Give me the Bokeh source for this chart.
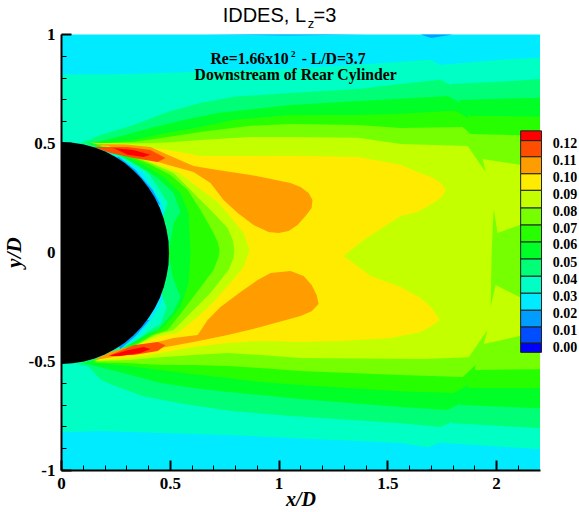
from bokeh.plotting import figure
from bokeh.models import Range1d, FixedTicker
from bokeh.core.properties import value
from bokeh.embed import file_html
from bokeh.resources import INLINE

# Contour outlines, in x/D, y/D
level_03 = [(0, 1), (2.2, 1), (2.2, -1), (0, -1)]
level_04 = [(0,0.817),(0.317,0.819),(0.639,0.829),(1.053,0.842),(1.362,0.861),(1.697,0.884),(1.753,0.856),(1.748,0.861),(1.868,0.872),(2.019,0.884),(2.2,0.895),
            (2.2,-0.902),(1.753,-0.874),(1.743,-0.870),(1.688,-0.893),(1.559,-0.874),(1.362,-0.865),(1.053,-0.851),(0.791,-0.838),(0.488,-0.829),(0.179,-0.819),(0,-0.824),
            (0,-0.512),(0.087,-0.498),(0.179,-0.470),(0.327,-0.406),(0.377,-0.360),(0.409,-0.314),(0.455,-0.241),(0.478,-0.172),(0.455,-0.002),(0.478,0.172),(0.455,0.241),(0.409,0.310),(0.373,0.369),(0.271,0.434),(0.179,0.473),(0.087,0.496),(0,0.507)]
level_05 = [(0.041,0.503),(0.087,0.501),(0.179,0.539),(0.331,0.585),(0.488,0.645),(0.639,0.686),(0.791,0.714),(1.053,0.732),(1.362,0.750),(1.559,0.773),(1.743,0.792),(1.799,0.764),(1.789,0.773),(2.019,0.783),(2.2,0.796),
            (2.2,-0.806),(1.799,-0.783),(1.794,-0.778),(1.743,-0.801),(1.559,-0.783),(1.053,-0.750),(0.791,-0.728),(0.561,-0.695),(0.377,-0.659),(0.225,-0.604),(0.179,-0.581),(0.120,-0.521),(0.064,-0.512),
            (0.179,-0.480),(0.280,-0.443),(0.363,-0.397),(0.400,-0.360),(0.455,-0.328),(0.483,-0.250),(0.465,-0.209),(0.455,-0.149),(0.409,-0.002),(0.455,0.140),(0.474,0.186),(0.488,0.227),(0.442,0.301),(0.396,0.369),(0.294,0.429),(0.202,0.470),(0.110,0.498)]
level_06 = [(0.120,0.498),(0.258,0.530),(0.409,0.571),(0.561,0.608),(0.718,0.640),(1.053,0.677),(1.362,0.695),(1.559,0.705),(1.776,0.718),(1.835,0.686),(1.826,0.700),(2.2,0.710),
            (2.2,-0.714),(1.831,-0.700),(1.835,-0.691),(1.776,-0.723),(1.559,-0.709),(1.099,-0.672),(0.915,-0.654),(0.764,-0.640),(0.607,-0.622),(0.455,-0.599),(0.304,-0.558),(0.193,-0.530),(0.101,-0.507),
            (0.202,-0.480),(0.294,-0.434),(0.386,-0.379),(0.442,-0.356),(0.511,-0.278),(0.547,-0.204),(0.511,-0.112),(0.492,-0.002),(0.515,0.135),(0.547,0.186),(0.515,0.273),(0.442,0.342),(0.363,0.392),(0.262,0.452),(0.156,0.489)]
level_07 = [(0.147,0.498),(0.331,0.516),(0.488,0.549),(0.639,0.576),(0.791,0.608),(1.053,0.631),(1.362,0.631),(1.559,0.636),(1.812,0.650),(1.872,0.613),(1.867,0.627),(2.2,0.623),
            (2.2,-0.622),(1.867,-0.622),(1.872,-0.608),(1.803,-0.645),(1.559,-0.636),(1.099,-0.608),(0.915,-0.594),(0.764,-0.576),(0.607,-0.558),(0.455,-0.539),(0.304,-0.521),(0.133,-0.503),
            (0.225,-0.475),(0.317,-0.429),(0.409,-0.379),(0.469,-0.342),(0.547,-0.250),(0.584,-0.140),(0.593,-0.002),(0.584,0.181),(0.547,0.273),(0.469,0.347),(0.386,0.397),(0.271,0.457),(0.179,0.484)]
level_08 = [(0.166,0.500),(0.331,0.507),(0.488,0.530),(0.639,0.553),(0.869,0.581),(1.053,0.590),(1.362,0.585),(1.559,0.571),(1.845,0.576),(1.900,0.526),(1.881,0.544),(2.2,0.535),
            (2.2,-0.535),(1.900,-0.539),(1.904,-0.516),(1.845,-0.571),(1.559,-0.562),(1.099,-0.544),(0.915,-0.530),(0.764,-0.521),(0.607,-0.516),(0.455,-0.516),(0.304,-0.507),(0.147,-0.503),
            (0.248,-0.470),(0.340,-0.425),(0.419,-0.379),(0.488,-0.356),(0.561,-0.264),(0.630,-0.172),(0.699,-0.080),(0.722,-0.021),(0.727,0.011),(0.718,0.048),(0.699,0.090),(0.639,0.195),(0.580,0.287),(0.501,0.356),(0.409,0.402),(0.294,0.452),(0.189,0.484)]
level_09 = [(0.133,0.503),(0.331,0.500),(0.488,0.505),(0.639,0.516),(0.869,0.530),(1.053,0.530),(1.362,0.526),(1.559,0.498),(1.867,0.489),(1.950,0.369),(1.936,0.429),(2.106,0.402),(2.2,0.388),
            (2.2,0.131),(2.106,0.126),(2.005,0.090),(1.987,0.200),(1.978,0.011),(1.973,-0.250),(1.996,-0.149),(2.106,-0.204),(2.2,-0.232),(2.2,-0.379),(2.106,-0.383),(1.941,-0.420),(1.959,-0.356),(1.872,-0.480),
            (1.665,-0.489),(1.099,-0.484),(0.915,-0.470),(0.764,-0.461),(0.607,-0.470),(0.455,-0.480),(0.304,-0.493),(0.147,-0.498),
            (0.271,-0.466),(0.363,-0.415),(0.432,-0.379),(0.515,-0.356),(0.607,-0.264),(0.685,-0.186),(0.768,-0.080),(0.791,-0.025),(0.795,0.011),(0.787,0.057),(0.764,0.112),(0.699,0.181),(0.607,0.273),(0.515,0.365),(0.409,0.411),(0.294,0.457),(0.202,0.489)]
level_10 = [(0.143,0.500),(0.331,0.489),(0.488,0.471),(0.639,0.443),(0.869,0.443),(1.053,0.444),(1.362,0.438),(1.559,0.402),(1.637,0.369),(1.711,0.342),(1.748,0.314),(1.766,0.287),(1.748,0.255),(1.711,0.227),(1.637,0.186),(1.559,0.168),(1.389,0.057),(1.297,-0.016),
            (1.421,-0.108),(1.559,-0.158),(1.651,-0.209),(1.702,-0.255),(1.739,-0.310),(1.702,-0.337),(1.651,-0.365),(1.513,-0.392),(1.283,-0.406),(1.099,-0.411),(0.915,-0.406),(0.764,-0.415),(0.607,-0.434),(0.455,-0.461),(0.304,-0.484),(0.156,-0.493),
            (0.294,-0.457),(0.386,-0.411),(0.455,-0.383),(0.534,-0.369),(0.626,-0.296),(0.699,-0.227),(0.777,-0.140),(0.837,-0.067),(0.865,0.011),(0.837,0.090),(0.777,0.163),(0.718,0.232),(0.626,0.301),(0.534,0.369),(0.409,0.415),(0.294,0.461),(0.216,0.489)]
level_11_upper = [(0.143,0.498),(0.294,0.496),(0.409,0.484),(0.488,0.448),(0.607,0.397),(0.718,0.379),(0.869,0.356),(1.053,0.319),(1.099,0.301),(1.136,0.273),(1.154,0.241),(1.150,0.204),(1.122,0.167),(1.085,0.126),(1.044,0.099),(0.998,0.090),(0.952,0.094),(0.883,0.126),(0.810,0.181),(0.745,0.241),(0.685,0.319),(0.607,0.369),(0.488,0.402),(0.409,0.425),(0.294,0.461),(0.216,0.489)]
level_11_lower = [(0.147,-0.493),(0.304,-0.470),(0.455,-0.438),(0.607,-0.411),(0.764,-0.379),(0.915,-0.342),(1.099,-0.291),(1.150,-0.269),(1.182,-0.236),(1.173,-0.195),(1.150,-0.149),(1.113,-0.108),(1.053,-0.085),(0.961,-0.094),(0.902,-0.126),(0.823,-0.181),(0.731,-0.250),(0.672,-0.310),(0.626,-0.379),(0.515,-0.392),(0.442,-0.411),(0.304,-0.434),(0.225,-0.457)]
level_12_upper = [(0.147,0.484),(0.304,0.484),(0.409,0.470),(0.478,0.434),(0.442,0.415),(0.331,0.434),(0.225,0.457)]
level_12_lower = [(0.225,-0.470),(0.331,-0.425),(0.442,-0.411),(0.478,-0.425),(0.442,-0.452),(0.331,-0.470)]
level_13_upper = [(0.239,0.479),(0.331,0.470),(0.409,0.448),(0.377,0.438),(0.304,0.448)]
level_13_lower = [(0.216,-0.475),(0.304,-0.448),(0.377,-0.434),(0.409,-0.443),(0.363,-0.461),(0.271,-0.475)]
level_02_top = [(0.653,1),(1.407,1),(1.03,0.996)]
level_02_tip = [(1.651,1),(1.798,1),(1.70,0.984)]
level_02_bottom = [(1.674,-1),(1.700,-0.989),(1.690,-1)]
level_02_wall_upper = [(0.262,0.439),(0.340,0.379),(0.419,0.287),(0.455,0.218),(0.317,0.287),(0.179,0.379)]
level_02_wall_lower = [(0.271,-0.443),(0.340,-0.383),(0.405,-0.310),(0.179,-0.310)]
cylinder_outline = [(0,0.507),(0.052,0.504),(0.103,0.496),(0.153,0.482),(0.201,0.463),(0.247,0.439),(0.291,0.410),(0.331,0.376),(0.367,0.339),(0.400,0.297),(0.428,0.253),(0.452,0.205),(0.470,0.155),(0.483,0.104),(0.492,0.051),(0.494,-0.002),
                    (0.492,-0.055),(0.483,-0.108),(0.470,-0.159),(0.452,-0.209),(0.428,-0.257),(0.400,-0.301),(0.367,-0.343),(0.331,-0.380),(0.291,-0.414),(0.247,-0.443),(0.201,-0.467),(0.153,-0.486),(0.103,-0.500),(0.052,-0.508),(0,-0.511)]

palette = ["#0000ff","#004eff","#009dff","#00ebff","#00ffc4","#00ff76","#00ff27",
           "#27ff00","#76ff00","#c4ff00","#ffeb00","#ff9d00","#ff4e00","#ff0000"]

contour_layers = [
    (level_03, 3), (level_02_top, 2), (level_02_tip, 2), (level_02_bottom, 2),
    (level_04, 4), (level_02_wall_upper, 2), (level_02_wall_lower, 2),
    (level_05, 5), (level_06, 6), (level_07, 7), (level_08, 8), (level_09, 9), (level_10, 10),
    (level_11_upper, 11), (level_11_lower, 11), (level_12_upper, 12), (level_12_lower, 12),
    (level_13_upper, 13), (level_13_lower, 13),
]

legend_levels = ["0.12","0.11","0.10","0.09","0.08","0.07","0.06","0.05","0.04","0.03","0.02","0.01","0.00"]
legend_label_y = [0.503,0.425,0.348,0.269,0.192,0.114,0.038,-0.042,-0.122,-0.200,-0.276,-0.354,-0.435]
legend_edges = [0.558,0.513,0.439,0.361,0.285,0.204,0.126,0.048,-0.030,-0.109,-0.187,-0.265,-0.342,-0.416,-0.458]

x_major = [0, 0.5, 1, 1.5, 2]
x_minor = [0.1,0.2,0.3,0.4,0.6,0.7,0.8,0.9,1.1,1.2,1.3,1.4,1.6,1.7,1.8,1.9,2.1]
y_major = [-1, -0.5, 0, 0.5, 1]
y_minor = [-0.9,-0.8,-0.7,-0.6,-0.4,-0.3,-0.2,-0.1,0.1,0.2,0.3,0.4,0.6,0.7,0.8,0.9]
x_labels = {0: "0", 0.5: "0.5", 1: "1", 1.5: "1.5", 2: "2"}
y_labels = {-1: "-1", -0.5: "-0.5", 0: "0", 0.5: "0.5", 1: "1"}

p = figure(width=579, height=512, output_backend="svg", toolbar_location=None,
           x_range=Range1d(-0.2805, 2.3816), y_range=Range1d(-1.1927, 1.156),
           min_border=0, background_fill_color="white", outline_line_color=None)
p.grid.grid_line_color = None

for outline, idx in contour_layers:
    p.patch([q[0] for q in outline], [q[1] for q in outline], fill_color=palette[idx], line_color=None)

p.patch([q[0] for q in cylinder_outline], [q[1] for q in cylinder_outline], fill_color="black", line_color=None)

# legend
p.quad(left=[2.111]*14, right=[2.207]*14, top=legend_edges[:-1], bottom=legend_edges[1:],
       fill_color=palette[::-1], line_color="#202020", line_width=1)
SERIF = value("Liberation Serif")
p.text(x=[2.259]*13, y=legend_label_y, text=legend_levels, text_font=SERIF, text_font_style="bold",
       text_font_size="14px", text_baseline="middle", text_color="black")

# annotation
def note(x, y, s, size, font=SERIF, style="bold"):
    p.text(x=[x], y=[y], text=[s], text_font=font, text_font_style=style, text_font_size=size,
           text_baseline="middle", text_color="black")

note(0.685, 0.890, "Re=1.66x10", "15.7px")
note(1.055, 0.911, "2", "9px")
note(1.104, 0.890, "- L/D=3.7", "15.7px")
note(0.612, 0.815, "Downstream of Rear Cylinder", "15.7px")
SANS = value("Liberation Sans")
note(0.741, 1.090, "IDDES, L", "20px", SANS, "normal")
note(1.132, 1.049, "z", "13px", SANS, "normal")
note(1.159, 1.090, "=3", "20px", SANS, "normal")

for ax, major, minor, labels, bounds, title, cross, label_gap, title_gap, title_size in [
    (p.xaxis[0], x_major, x_minor, x_labels, (0, 2.2), "x/D", -1, 8, -5, "20px"),
    (p.yaxis[0], y_major, y_minor, y_labels, (-1, 1), "y/D", 0, 6, 0, "21px"),
]:
    ax.fixed_location = cross
    ax.ticker = FixedTicker(ticks=major, minor_ticks=minor)
    ax.major_label_overrides = labels
    ax.bounds = bounds
    ax.axis_label = title
    ax.axis_label_text_font = "Liberation Serif"
    ax.axis_label_text_font_style = "bold italic"
    ax.axis_label_text_font_size = title_size
    ax.axis_label_text_color = "black"
    ax.axis_label_standoff = title_gap
    ax.major_label_text_font = "Liberation Serif"
    ax.major_label_text_font_style = "bold"
    ax.major_label_text_font_size = "17px"
    ax.major_label_text_color = "black"
    ax.major_label_standoff = label_gap
    ax.axis_line_width = 2
    ax.axis_line_color = "black"
    ax.major_tick_in = 10
    ax.major_tick_out = 0
    ax.major_tick_line_width = 2
    ax.major_tick_line_color = "black"
    ax.minor_tick_in = 5
    ax.minor_tick_out = 0
    ax.minor_tick_line_width = 1
    ax.minor_tick_line_color = "black"

open("out.html", "w").write(file_html(p, INLINE))
